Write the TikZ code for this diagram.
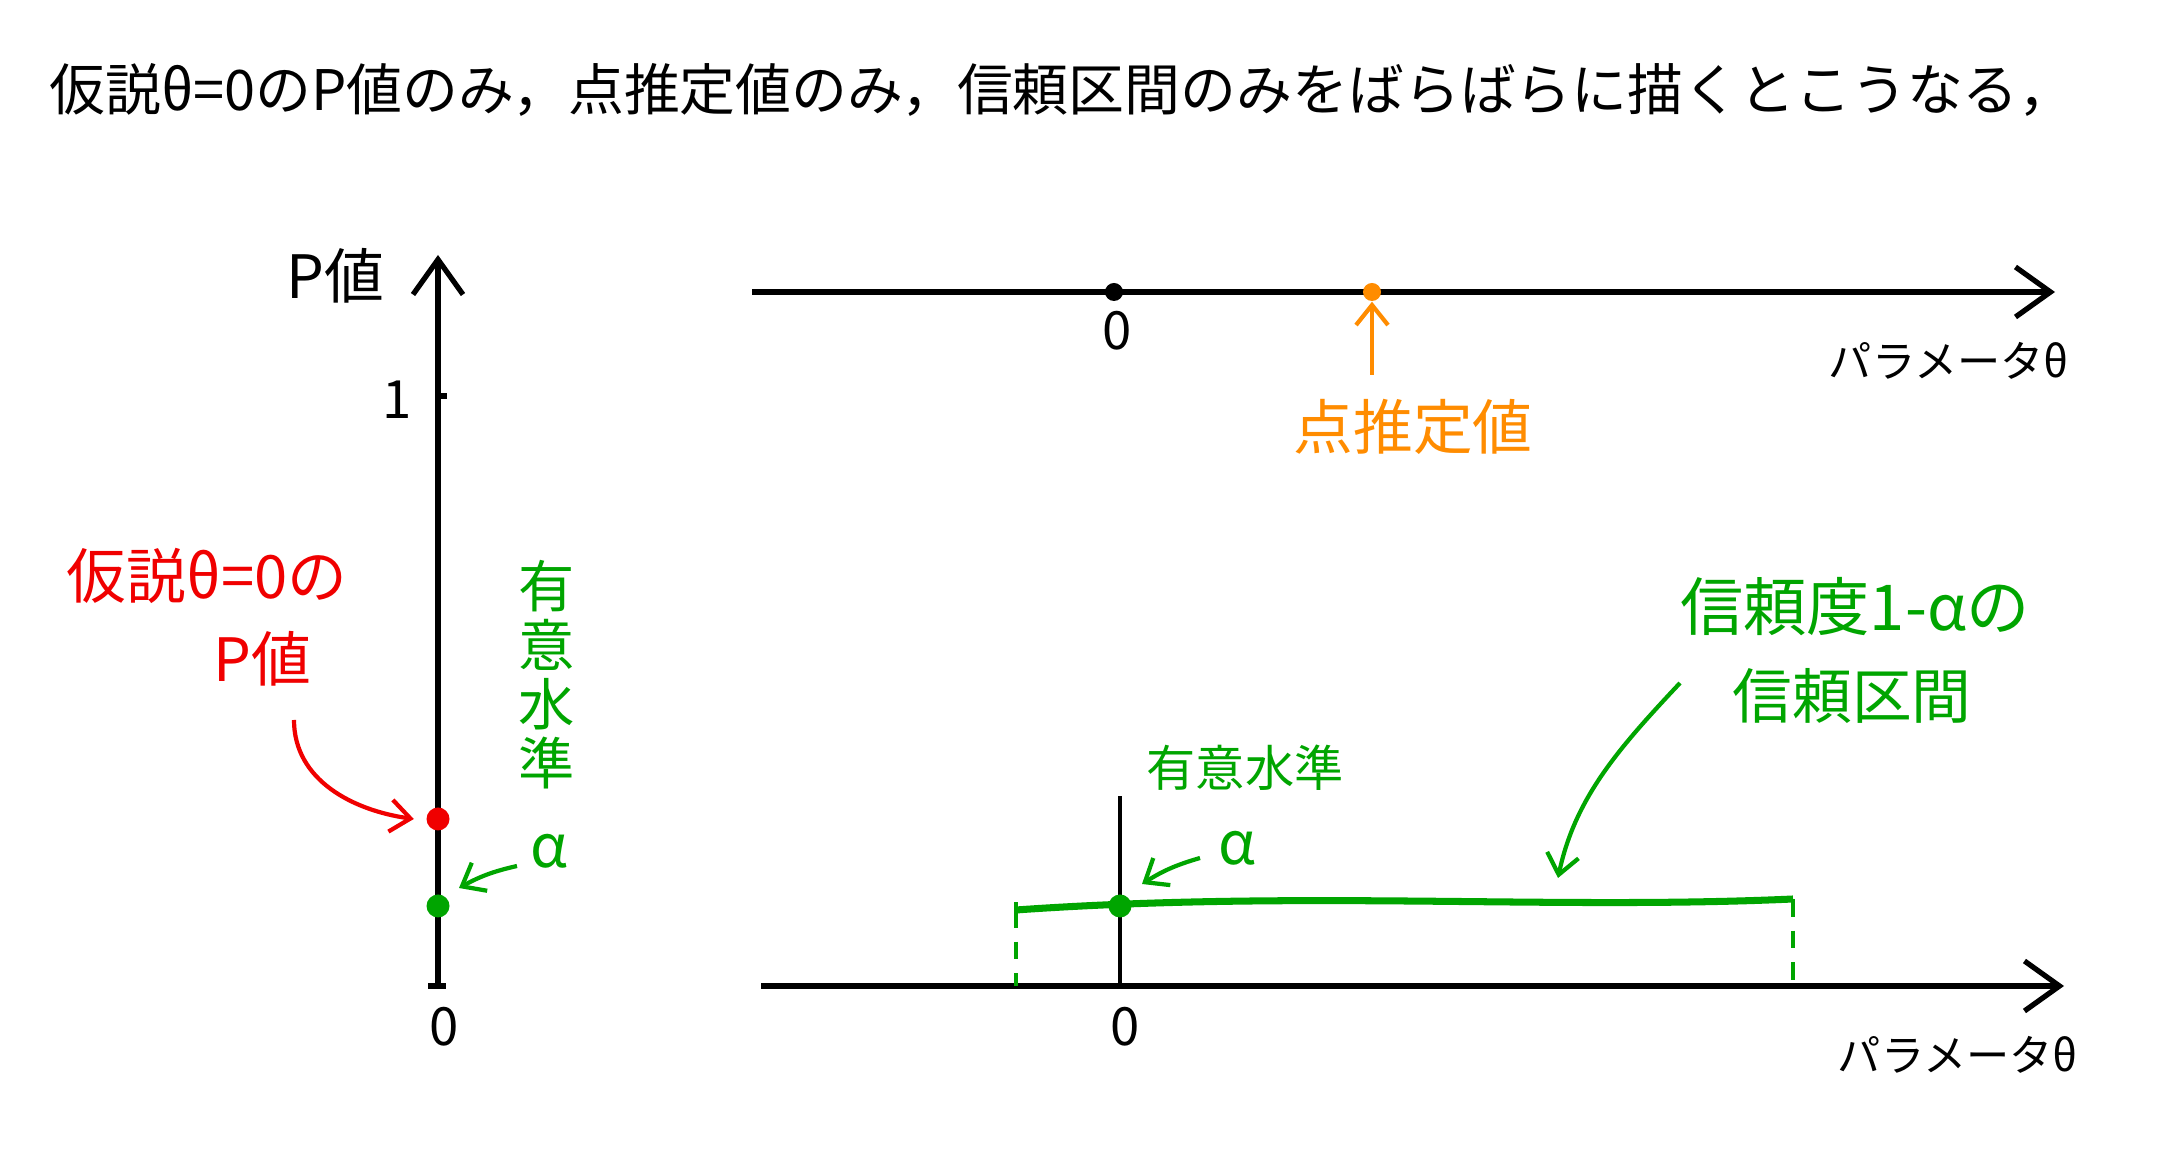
\documentclass[tikz,border=0pt]{standalone}
\usepackage{fontspec}
\setmainfont{Noto Sans CJK JP}
\usetikzlibrary{arrows.meta,positioning,calc}
\definecolor{hgreen}{RGB}{0,165,0}
\definecolor{horange}{RGB}{255,140,0}
\definecolor{hred}{RGB}{240,0,0}

\begin{document}
\begin{tikzpicture}[
  ax/.style={line width=1.5pt,-{Straight Barb[length=3.5mm,width=5mm,line width=1.5pt]}},
  ptr/.style={line width=1.2pt,-{Straight Barb[length=2mm,width=3.2mm,line width=1.2pt]}},
  dot/.style={circle,fill,inner sep=0pt,minimum size=1.8mm},
  bigdot/.style={dot,minimum size=2.3mm},
  lbl/.style={font=\fontsize{17}{20}\selectfont,inner sep=1pt},
  small/.style={font=\fontsize{12.3}{15}\selectfont,inner sep=1pt},
  num/.style={font=\fontsize{15}{18}\selectfont,inner sep=1pt},
  drop/.style={hgreen,line width=0.9pt,dash pattern=on 5pt off 4pt}
]
  \path[fill=white,use as bounding box] (0,0) rectangle (21.62,11.52);
  \node[font=\fontsize{15.9}{18}\selectfont] (title) at (10.62,10.62) {仮説θ=0のP値のみ，点推定値のみ，信頼区間のみをばらばらに描くとこうなる，};

  \coordinate (pb) at (4.38,1.66);
  \coordinate (pt) at (4.38,8.97);
  \draw[ax] (pb) -- (pt);
  \draw[line width=1.5pt] ([xshift=-0.1cm]pb) -- ([xshift=0.08cm]pb);
  \coordinate (one) at (4.38,7.56);
  \draw[line width=1.5pt] (one) -- ([xshift=0.09cm]one);
  \node[lbl] (pval) at (3.35,8.76) {P値};
  \node[num] (onel) at (3.97,7.52) {1};
  \node[num] (zero1) at (4.44,1.25) {0};
  \node[bigdot,hred] (pv) at (4.38,3.33) {};
  \node[bigdot,hgreen] (sd1) at (4.38,2.46) {};
  \node[lbl,hred] (hypo1) at (2.07,5.76) {仮説θ=0の};
  \node[lbl,hred] (hypo2) at (2.62,4.93) {P値};
  \coordinate (ra) at (2.94,4.32);
  \draw[ptr,hred] (ra) to[out=-90,in=172] ([xshift=-0.12cm]pv.west);
  \node[font=\fontsize{16}{16.8}\selectfont,hgreen,align=center,inner sep=1pt] (sig1) at (5.47,4.77) {有\\意\\水\\準};
  \node[lbl,hgreen] (a1) at (5.49,3.01) {α};
  \coordinate (ga) at (5.17,2.86);
  \draw[ptr,hgreen] (ga) to[bend right=8] ([shift={(0.21,0.18)}]sd1.center);

  \coordinate (ta) at (7.52,8.60);
  \coordinate (tb) at (20.55,8.60);
  \draw[ax] (ta) -- (tb);
  \node[dot] (z1) at (11.14,8.60) {};
  \node[dot,horange] (est) at (13.72,8.60) {};
  \node[num] (zero2) at (11.17,8.21) {0};
  \node[lbl,horange] (estl) at (14.13,7.25) {点推定値};
  \coordinate (estb) at (13.72,7.77);
  \draw[ptr,horange] (estb) -- (est.south);
  \node[small] (par1) at (19.49,7.91) {パラメータθ};

  \coordinate (ba) at (7.61,1.66);
  \coordinate (bb) at (20.64,1.66);
  \draw[ax] (ba) -- (bb);
  \coordinate (z2) at (11.20,1.66);
  \coordinate (ztop) at (11.20,3.56);
  \draw[line width=1pt] (z2) -- (ztop);
  \node[num] (zero3) at (11.25,1.25) {0};
  \node[small] (par2) at (19.58,0.97) {パラメータθ};
  \coordinate (cil) at (10.16,2.42);
  \coordinate (cir) at (17.93,2.53);
  \draw[hgreen,line width=2pt] (cil) .. controls (13,2.62) and (15.5,2.42) .. (cir);
  \draw[hgreen,line width=1pt] ([yshift=-0.08cm]cil) -- ([yshift=0.08cm]cil);
  \draw[drop] (cil) -- (cil |- ba);
  \draw[drop] (cir) -- (cir |- ba);
  \node[bigdot,hgreen] (sd2) at (11.20,2.46) {};
  \node[font=\fontsize{14}{16}\selectfont,hgreen,inner sep=1pt] (sig2) at (12.45,3.84) {有意水準};
  \node[lbl,hgreen] (a2) at (12.37,3.04) {α};
  \coordinate (gb) at (12.00,2.94);
  \draw[ptr,hgreen] (gb) to[bend right=8] ([shift={(0.22,0.22)}]sd2.center);
  \node[font=\fontsize{18}{20}\selectfont,hgreen,inner sep=1pt] (ci1) at (18.55,5.45) {信頼度1-αの};
  \node[lbl,hgreen] (ci2) at (18.52,4.56) {信頼区間};
  \coordinate (cia) at (16.80,4.69);
  \coordinate (cib) at (15.58,2.74);
  \draw[ptr,hgreen] (cia) .. controls (16.2,4.05) and (15.75,3.55) .. (cib);
\end{tikzpicture}
\end{document}
